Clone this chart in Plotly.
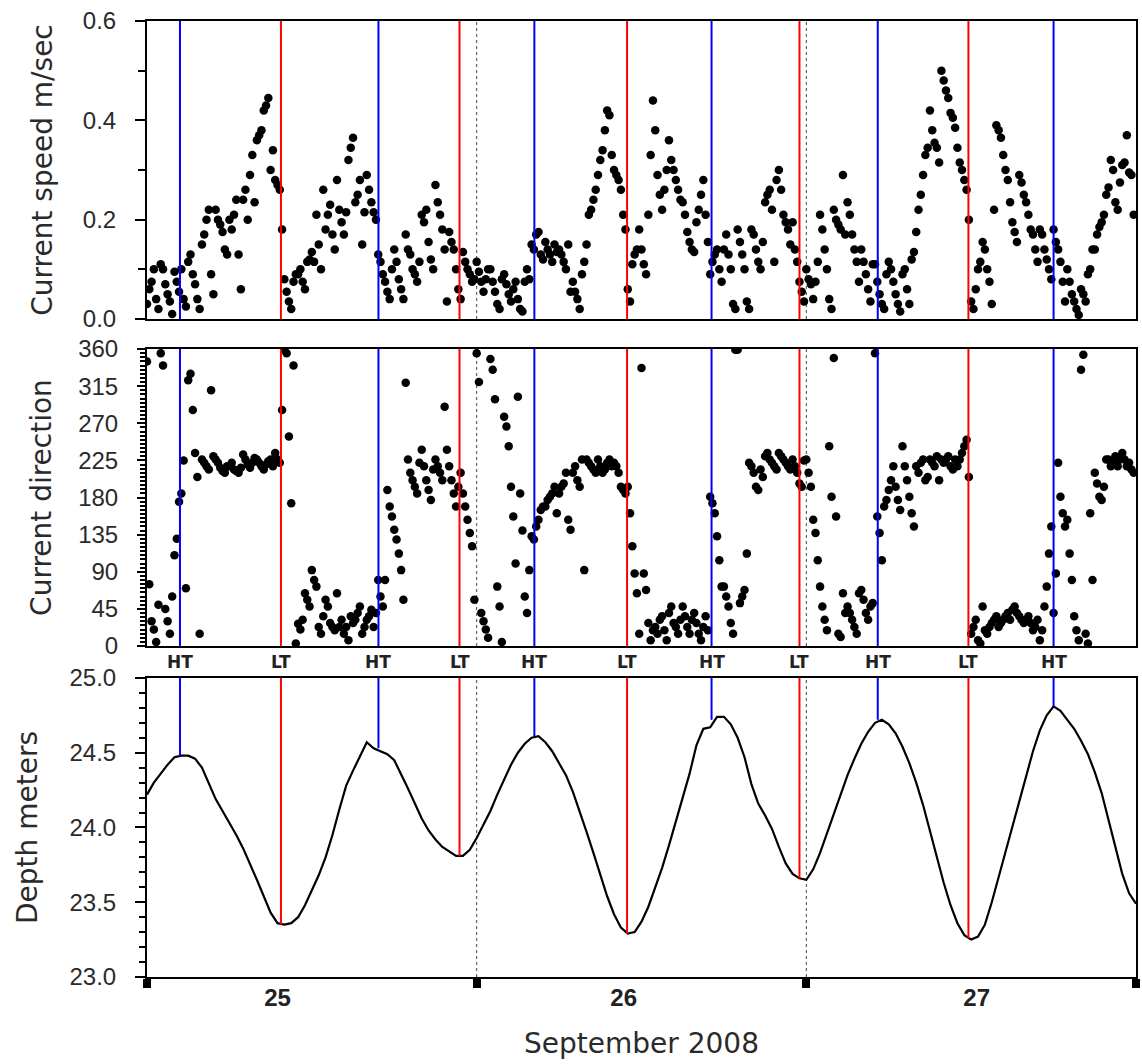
import pandas as pd
import plotly.graph_objects as go

START = pd.Timestamp("2008-09-25 00:00")

# Current meter, 10-minute samples; one row per hour (6 samples), from 25 Sep 00:00
speed_rows = [
    [0.03, 0.06, 0.075, 0.10, 0.04, 0.02],
    [0.11, 0.10, 0.07, 0.05, 0.035, 0.01],
    [0.095, 0.075, 0.055, 0.10, 0.04, 0.025],
    [0.115, 0.13, 0.09, 0.07, 0.04, 0.02],
    [0.15, 0.17, 0.20, 0.22, 0.09, 0.05],
    [0.22, 0.20, 0.19, 0.175, 0.14, 0.13],
    [0.20, 0.18, 0.21, 0.24, 0.13, 0.06],
    [0.24, 0.26, 0.20, 0.29, 0.33, 0.235],
    [0.36, 0.37, 0.38, 0.42, 0.43, 0.445],
    [0.30, 0.34, 0.28, 0.27, 0.26, 0.18],
    [0.08, 0.055, 0.035, 0.02, 0.075, 0.09],
    [0.09, 0.10, 0.075, 0.06, 0.115, 0.12],
    [0.135, 0.115, 0.21, 0.15, 0.10, 0.26],
    [0.18, 0.21, 0.23, 0.17, 0.14, 0.28],
    [0.22, 0.195, 0.17, 0.215, 0.32, 0.345],
    [0.365, 0.235, 0.25, 0.28, 0.15, 0.215],
    [0.29, 0.26, 0.235, 0.215, 0.20, 0.13],
    [0.115, 0.09, 0.075, 0.055, 0.04, 0.10],
    [0.14, 0.115, 0.08, 0.06, 0.04, 0.17],
    [0.14, 0.13, 0.10, 0.09, 0.075, 0.115],
    [0.21, 0.195, 0.22, 0.155, 0.12, 0.10],
    [0.27, 0.235, 0.21, 0.18, 0.14, 0.035],
    [0.175, 0.155, 0.14, 0.10, 0.06, 0.04],
    [0.135, 0.115, 0.10, 0.09, 0.075, 0.08],
    [0.115, 0.095, 0.075, 0.055, 0.08, 0.10],
    [0.10, 0.075, 0.055, 0.03, 0.02, 0.08],
    [0.09, 0.07, 0.05, 0.035, 0.06, 0.075],
    [0.04, 0.02, 0.015, 0.075, 0.10, 0.08],
    [0.15, 0.14, 0.17, 0.175, 0.13, 0.12],
    [0.155, 0.14, 0.13, 0.115, 0.15, 0.135],
    [0.14, 0.13, 0.115, 0.10, 0.15, 0.055],
    [0.075, 0.055, 0.04, 0.02, 0.09, 0.115],
    [0.15, 0.21, 0.22, 0.24, 0.26, 0.29],
    [0.32, 0.34, 0.38, 0.42, 0.41, 0.33],
    [0.30, 0.29, 0.28, 0.26, 0.21, 0.18],
    [0.06, 0.035, 0.11, 0.13, 0.14, 0.18],
    [0.14, 0.11, 0.09, 0.21, 0.33, 0.44],
    [0.38, 0.29, 0.25, 0.22, 0.26, 0.30],
    [0.36, 0.32, 0.30, 0.28, 0.26, 0.24],
    [0.235, 0.21, 0.175, 0.155, 0.14, 0.135],
    [0.195, 0.22, 0.25, 0.28, 0.21, 0.155],
    [0.09, 0.115, 0.13, 0.14, 0.10, 0.075],
    [0.14, 0.17, 0.13, 0.10, 0.03, 0.02],
    [0.18, 0.155, 0.13, 0.10, 0.035, 0.02],
    [0.18, 0.17, 0.14, 0.115, 0.10, 0.155],
    [0.235, 0.25, 0.26, 0.22, 0.115, 0.28],
    [0.30, 0.26, 0.21, 0.195, 0.18, 0.15],
    [0.195, 0.14, 0.115, 0.075, 0.055, 0.035],
    [0.10, 0.08, 0.07, 0.04, 0.075, 0.115],
    [0.21, 0.18, 0.14, 0.10, 0.04, 0.02],
    [0.22, 0.20, 0.19, 0.18, 0.29, 0.17],
    [0.235, 0.21, 0.17, 0.14, 0.115, 0.075],
    [0.14, 0.115, 0.09, 0.06, 0.035, 0.11],
    [0.11, 0.075, 0.05, 0.03, 0.02, 0.09],
    [0.115, 0.10, 0.075, 0.05, 0.03, 0.015],
    [0.09, 0.10, 0.06, 0.03, 0.12, 0.135],
    [0.175, 0.22, 0.25, 0.29, 0.33, 0.345],
    [0.42, 0.38, 0.355, 0.345, 0.315, 0.50],
    [0.48, 0.46, 0.445, 0.415, 0.405, 0.385],
    [0.345, 0.315, 0.30, 0.28, 0.26, 0.20],
    [0.035, 0.02, 0.06, 0.10, 0.115, 0.155],
    [0.14, 0.10, 0.075, 0.03, 0.22, 0.39],
    [0.38, 0.365, 0.33, 0.30, 0.28, 0.235],
    [0.195, 0.175, 0.155, 0.29, 0.275, 0.25],
    [0.235, 0.21, 0.18, 0.17, 0.14, 0.115],
    [0.18, 0.17, 0.14, 0.12, 0.10, 0.08],
    [0.18, 0.155, 0.14, 0.115, 0.075, 0.035],
    [0.10, 0.075, 0.05, 0.035, 0.02, 0.008],
    [0.06, 0.05, 0.035, 0.09, 0.10, 0.14],
    [0.14, 0.17, 0.185, 0.195, 0.21, 0.25],
    [0.265, 0.32, 0.30, 0.235, 0.22, 0.275],
    [0.31, 0.315, 0.37, 0.295, 0.29, 0.21],
]

direction_rows = [
    [345, 75, 30, 20, 5, 50],
    [355, 340, 45, 30, 15, 60],
    [110, 130, 175, 185, 225, 70],
    [322, 330, 286, 234, 205, 15],
    [226, 222, 218, 214, 310, 230],
    [226, 222, 216, 212, 210, 218],
    [218, 222, 214, 212, 210, 216],
    [232, 226, 220, 216, 222, 228],
    [226, 222, 218, 214, 220, 224],
    [226, 218, 234, 226, 222, 286],
    [359, 355, 254, 173, 340, 3],
    [27, 20, 32, 64, 56, 48],
    [92, 80, 72, 23, 15, 36],
    [56, 48, 28, 23, 19, 64],
    [23, 32, 15, 23, 7, 36],
    [28, 32, 40, 48, 15, 23],
    [32, 36, 44, 23, 40, 80],
    [60, 48, 80, 189, 169, 157],
    [141, 129, 112, 92, 56, 319],
    [226, 210, 201, 193, 185, 222],
    [238, 218, 201, 189, 177, 214],
    [226, 218, 210, 201, 290, 238],
    [218, 201, 185, 169, 193, 210],
    [185, 169, 153, 137, 121, 56],
    [355, 320, 40, 30, 20, 10],
    [348, 335, 299, 72, 48, 5],
    [278, 266, 242, 193, 157, 100],
    [302, 185, 140, 60, 40, 92],
    [133, 129, 145, 153, 165, 169],
    [169, 177, 181, 185, 193, 161],
    [185, 193, 197, 210, 153, 141],
    [210, 218, 201, 193, 226, 92],
    [226, 222, 218, 214, 210, 226],
    [218, 210, 214, 222, 226, 218],
    [222, 218, 210, 193, 189, 185],
    [193, 161, 121, 88, 64, 15],
    [337, 88, 68, 28, 7, 19],
    [23, 15, 32, 36, 19, 7],
    [40, 48, 28, 23, 15, 32],
    [48, 36, 23, 15, 32, 40],
    [28, 15, 7, 23, 36, 19],
    [181, 173, 161, 133, 104, 72],
    [72, 60, 48, 28, 15, 359],
    [359, 52, 60, 68, 112, 222],
    [218, 210, 193, 189, 214, 205],
    [230, 234, 226, 222, 218, 214],
    [234, 230, 226, 222, 218, 214],
    [226, 218, 210, 197, 193, 225],
    [226, 210, 193, 153, 137, 104],
    [72, 48, 32, 19, 242, 181],
    [349, 157, 15, 11, 64, 40],
    [48, 40, 32, 23, 15, 64],
    [68, 56, 40, 32, 48, 52],
    [355, 157, 137, 104, 169, 177],
    [189, 201, 218, 193, 177, 165],
    [242, 218, 201, 181, 161, 145],
    [218, 210, 222, 226, 201, 205],
    [226, 222, 218, 230, 201, 226],
    [222, 226, 230, 218, 214, 226],
    [218, 226, 234, 242, 250, 205],
    [15, 23, 32, 7, 3, 48],
    [19, 15, 23, 28, 32, 36],
    [23, 28, 32, 36, 40, 32],
    [44, 48, 40, 36, 32, 28],
    [32, 36, 28, 19, 23, 32],
    [7, 19, 48, 72, 112, 145],
    [40, 88, 222, 181, 161, 145],
    [153, 112, 80, 36, 19, 7],
    [335, 353, 15, 3, 161, 80],
    [210, 197, 181, 177, 193, 226],
    [226, 218, 222, 230, 218, 226],
    [234, 226, 218, 222, 214, 210],
]

# Pressure-gauge depth, half-hourly from 25 Sep 00:00 to 28 Sep 00:00
depth_m = [
    24.22, 24.30, 24.36, 24.42, 24.47, 24.48, 24.48, 24.46, 24.40, 24.30,
    24.19, 24.11, 24.03, 23.95, 23.86, 23.76, 23.65, 23.54, 23.43, 23.36,
    23.35, 23.36, 23.40, 23.48, 23.58, 23.68, 23.80, 23.95, 24.12, 24.28,
    24.38, 24.48, 24.57, 24.53, 24.51, 24.49, 24.45, 24.36, 24.26, 24.16,
    24.06, 23.98, 23.92, 23.87, 23.84, 23.81, 23.81, 23.85, 23.93, 24.02,
    24.11, 24.22, 24.32, 24.42, 24.50, 24.56, 24.60, 24.61, 24.57, 24.51,
    24.43, 24.35, 24.24, 24.11, 23.97, 23.83, 23.68, 23.54, 23.42, 23.33,
    23.29, 23.30, 23.37, 23.47, 23.60, 23.73, 23.88, 24.04, 24.20, 24.36,
    24.55, 24.66, 24.67, 24.74, 24.74, 24.69, 24.60, 24.47, 24.29, 24.16,
    24.08, 23.99, 23.87, 23.76, 23.69, 23.66, 23.65, 23.72, 23.83, 23.96,
    24.09, 24.22, 24.35, 24.46, 24.56, 24.64, 24.70, 24.72, 24.69, 24.63,
    24.54, 24.43, 24.30, 24.15, 23.98, 23.80, 23.63, 23.48, 23.36, 23.28,
    23.25, 23.27, 23.35, 23.50, 23.67, 23.84, 24.01, 24.18, 24.35, 24.51,
    24.65, 24.75, 24.81, 24.78, 24.72, 24.66, 24.58, 24.49, 24.37, 24.23,
    24.05, 23.86, 23.69, 23.56, 23.49,
]

# High / low tides: hours after 25 Sep 00:00, type, depth at the turn
tide_hours = [2.4, 9.75, 16.85, 22.75, 28.2, 34.95, 41.1, 47.5, 53.2, 59.8, 66.0]
tide_kind = ["HT", "LT", "HT", "LT", "HT", "LT", "HT", "LT", "HT", "LT", "HT"]
tide_depth = [24.48, 23.35, 24.53, 23.81, 24.61, 23.29, 24.72, 23.66, 24.72, 23.26, 24.81]

day_labels = ["25", "26", "27"]

speed = [v for row in speed_rows for v in row]
direction = [v for row in direction_rows for v in row]
t_current = START + pd.to_timedelta([10 * i for i in range(len(speed))], unit="min")
t_depth = START + pd.to_timedelta([30 * i for i in range(len(depth_m))], unit="min")
tide_times = START + pd.to_timedelta(tide_hours, unit="h")
midnights = [START + pd.Timedelta(days=d) for d in range(4)]
# where the day numbers sit along the bottom axis
day_label_at = START + pd.to_timedelta([9.5, 34.7, 60.4], unit="h")

TICK_FONT = dict(family="Liberation Sans, Arial, sans-serif", size=24, color="#2a2a2a")
TITLE_FONT = dict(family="DejaVu Sans, Verdana, sans-serif", size=28, color="#2a2a2a")
TIDE_COLOR = {"HT": "#0000ff", "LT": "#ff0000"}

fig = go.Figure()
marker = dict(color="black", size=8.5, line=dict(width=0))
fig.add_trace(go.Scatter(x=t_current, y=speed, mode="markers", marker=marker,
                         xaxis="x", yaxis="y", showlegend=False))
fig.add_trace(go.Scatter(x=t_current, y=direction, mode="markers", marker=marker,
                         xaxis="x2", yaxis="y2", showlegend=False))
fig.add_trace(go.Scatter(x=t_depth, y=depth_m, mode="lines",
                         line=dict(color="black", width=2.2),
                         xaxis="x3", yaxis="y3", showlegend=False))

shapes = []
for t, kind, d in zip(tide_times, tide_kind, tide_depth):
    c = TIDE_COLOR[kind]
    for xr, yr in (("x", "y domain"), ("x2", "y2 domain")):
        shapes.append(dict(type="line", xref=xr, yref=yr, x0=t, x1=t, y0=0, y1=1,
                           line=dict(color=c, width=2)))
    shapes.append(dict(type="line", xref="x3", yref="y3", x0=t, x1=t, y0=d, y1=25,
                       line=dict(color=c, width=2)))
for m in midnights[1:3]:
    for xr, yr in (("x", "y domain"), ("x2", "y2 domain"), ("x3", "y3 domain")):
        shapes.append(dict(type="line", xref=xr, yref=yr, x0=m, x1=m, y0=0, y1=1,
                           line=dict(color="#444", width=1, dash="dot"), layer="below"))

annotations = [
    dict(text=f"<b>{k}</b>", x=t, xref="x3", y=1, yref="y3 domain",
         yanchor="bottom", yshift=4, showarrow=False,
         font=dict(family="DejaVu Sans, Verdana, sans-serif", size=17, color="#222"))
    for t, k in zip(tide_times, tide_kind)
]

frame = dict(showline=True, linecolor="black", linewidth=2, mirror=True,
             showgrid=False, zeroline=False)
x_range = [midnights[0], midnights[-1]]

fig.update_layout(
    width=1142, height=1064,
    margin=dict(l=147, r=4, t=21, b=87),
    paper_bgcolor="white", plot_bgcolor="white",
    shapes=shapes, annotations=annotations,
    xaxis=dict(**frame, type="date", range=x_range, showticklabels=False, ticks="",
               anchor="y", matches="x3"),
    xaxis2=dict(**frame, type="date", range=x_range, showticklabels=False, ticks="",
                anchor="y2", matches="x3"),
    xaxis3=dict(**frame, type="date", range=x_range, anchor="y3",
                tickmode="array", tickvals=day_label_at,
                ticktext=[f"<b>{d}</b>" for d in day_labels],
                ticks="", ticklabelstandoff=-2, tickfont=dict(TICK_FONT, size=24, color="#222"),
                minor=dict(tickmode="array", tickvals=midnights, ticks="outside",
                           ticklen=9, tickwidth=8, tickcolor="black"),
                title=dict(text="September 2008", font=TITLE_FONT, standoff=24)),
    yaxis=dict(**frame, domain=[0.6883, 1.0], range=[0, 0.6], anchor="x",
               tickmode="array", tickvals=[0, 0.2, 0.4, 0.6], tickformat=".1f",
               ticks="outside", ticklen=10, tickwidth=2, tickcolor="black",
               ticklabelstandoff=14, tickfont=TICK_FONT,
               minor=dict(dtick=0.1, ticks="outside", ticklen=7, tickwidth=2, tickcolor="black"),
               title=dict(text="Current speed m/sec", font=TITLE_FONT, standoff=22)),
    yaxis2=dict(**frame, domain=[0.3462, 0.6569], range=[0, 360], anchor="x2",
                tickmode="linear", tick0=0, dtick=45,
                ticks="outside", ticklen=8, tickwidth=2, tickcolor="black",
                ticklabelstandoff=14, tickfont=TICK_FONT,
                minor=dict(dtick=5, ticks="outside", ticklen=5, tickwidth=2, tickcolor="black"),
                title=dict(text="Current direction", font=TITLE_FONT, standoff=18)),
    yaxis3=dict(**frame, domain=[0.0, 0.3128], range=[23, 25], anchor="x3",
                tickmode="linear", tick0=23, dtick=0.5, tickformat=".1f",
                ticks="outside", ticklen=10, tickwidth=2, tickcolor="black",
                ticklabelstandoff=14, tickfont=TICK_FONT,
                minor=dict(dtick=0.1, ticks="outside", ticklen=6, tickwidth=2, tickcolor="black"),
                title=dict(text="Depth meters", font=TITLE_FONT, standoff=24)),
)

fig.write_html("out.html")
